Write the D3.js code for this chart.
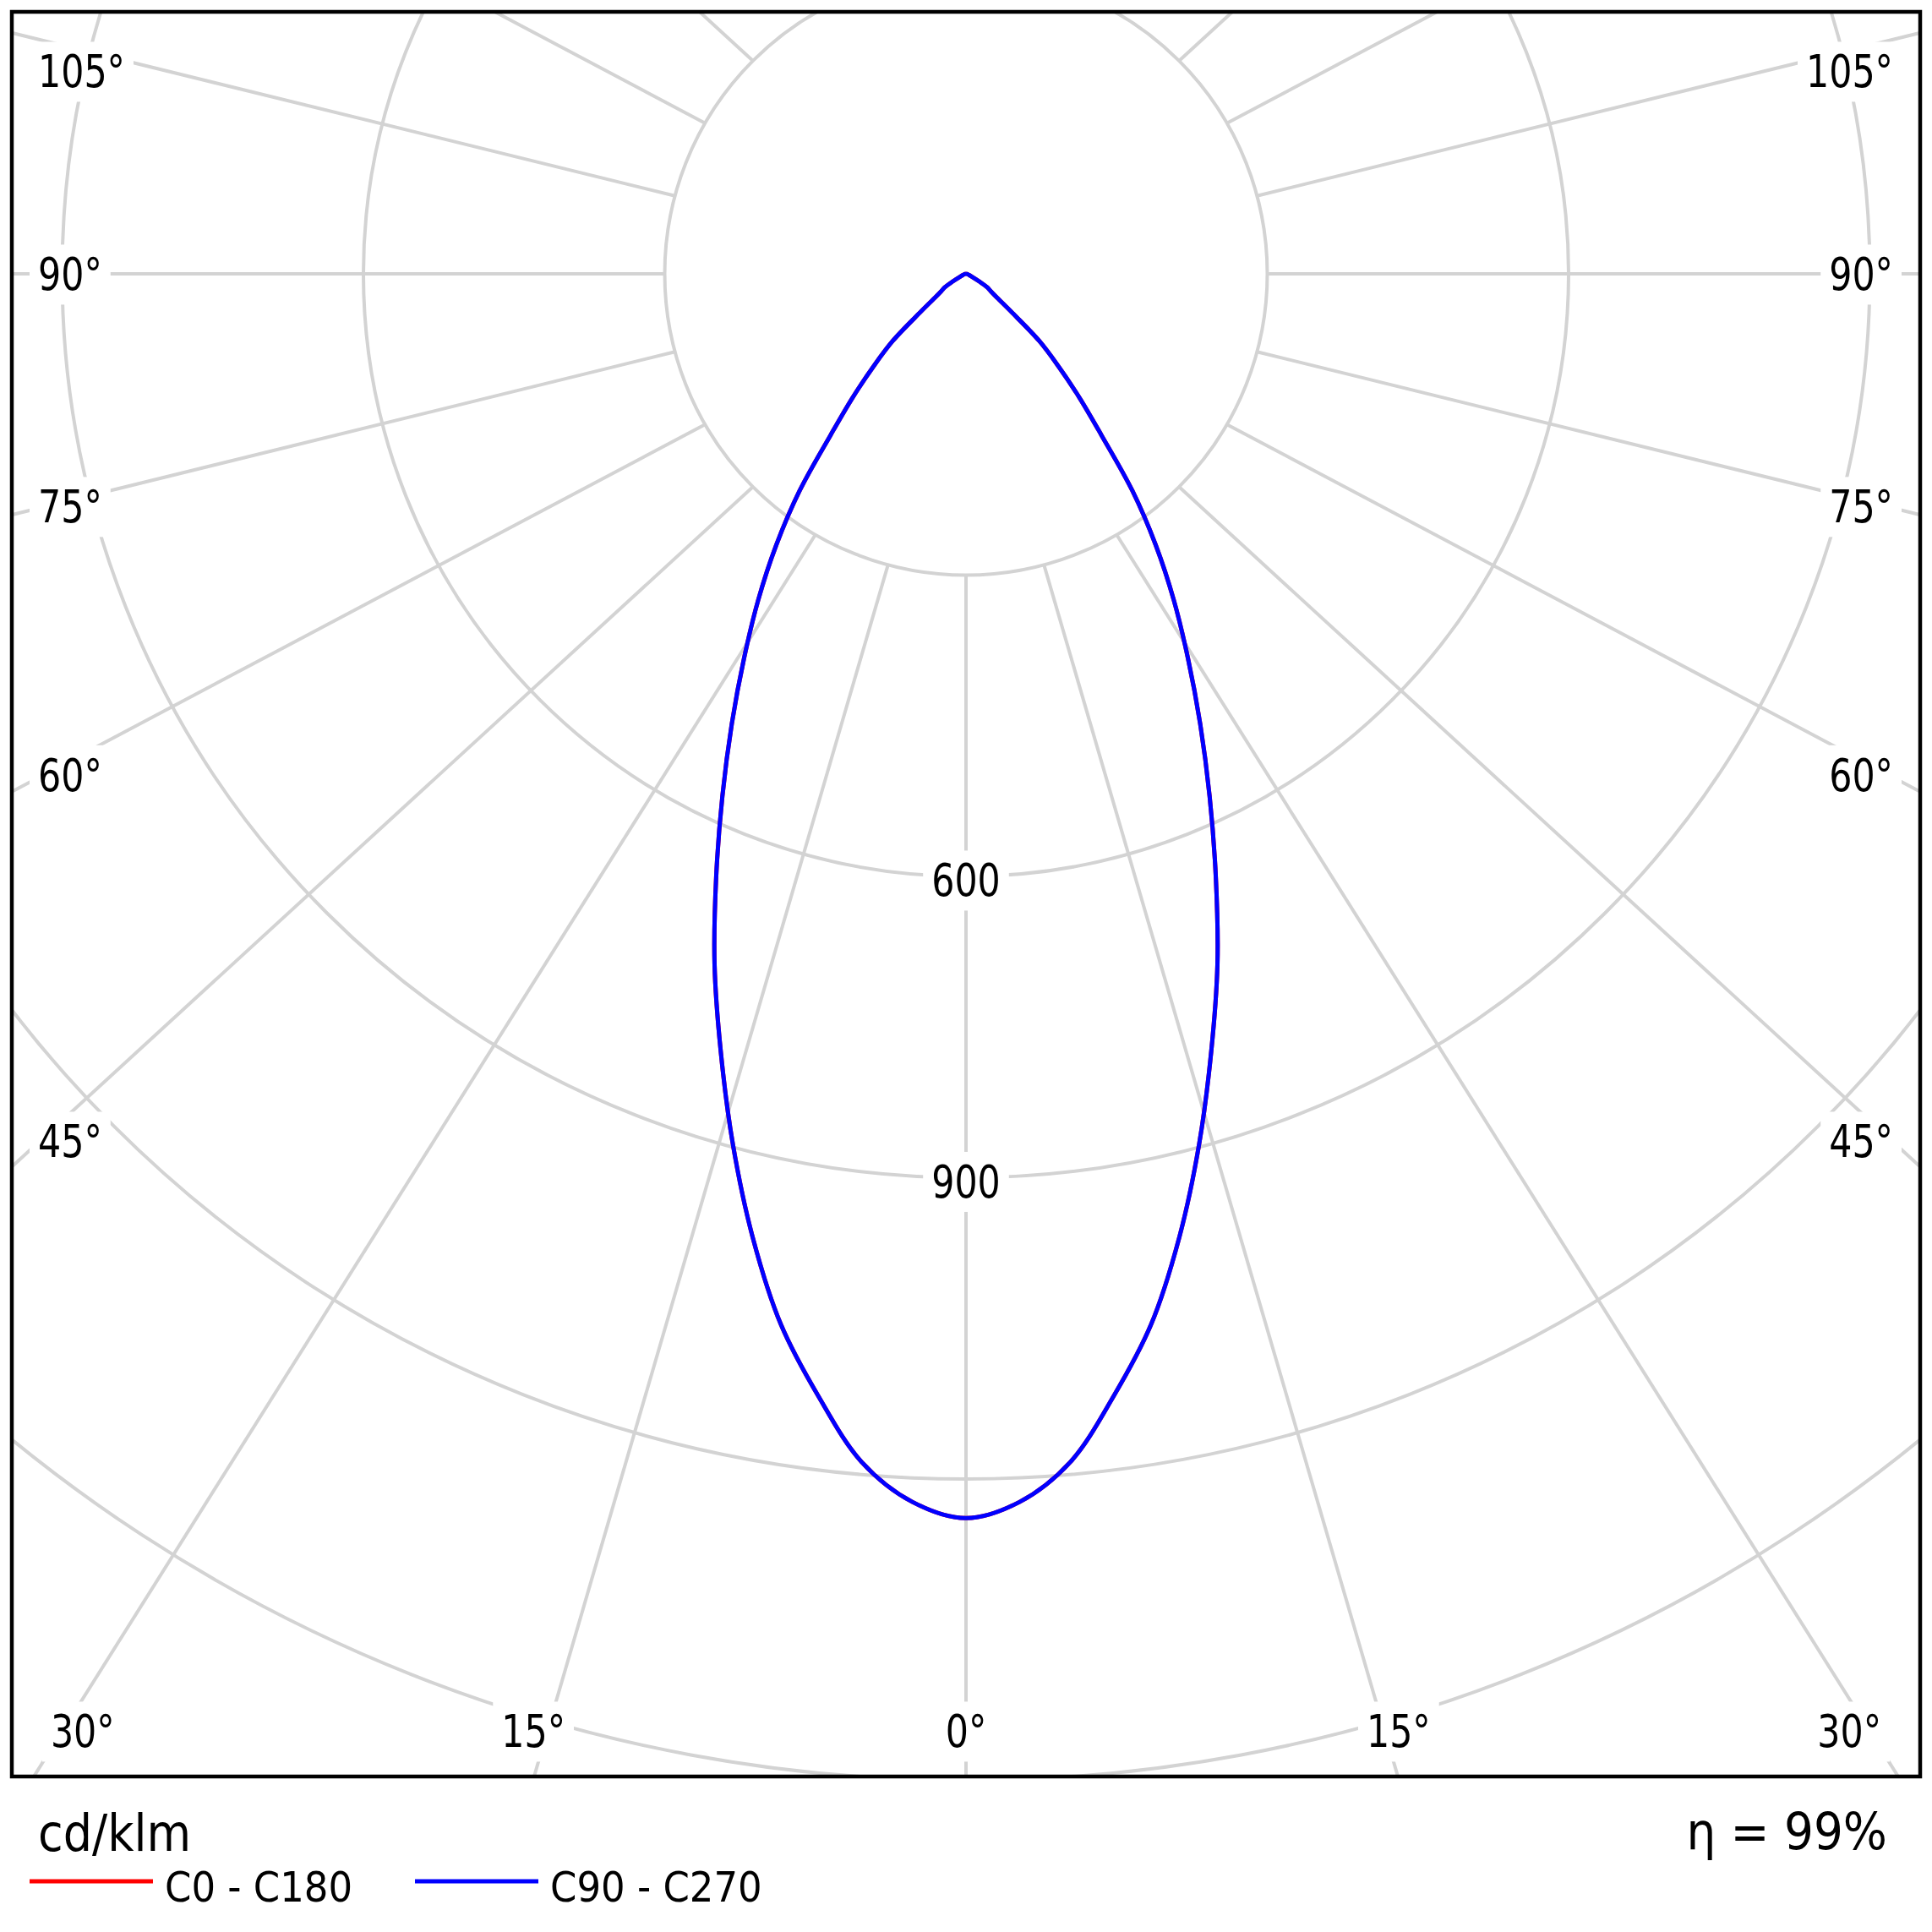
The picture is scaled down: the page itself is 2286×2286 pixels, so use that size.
<!DOCTYPE html>
<html>
<head>
<meta charset="utf-8">
<script src="https://cdn.jsdelivr.net/npm/d3@7"></script>
<style>
  body { margin: 0; background: #fff; }
  text { font-family: "DejaVu Sans Condensed", "DejaVu Sans", sans-serif; font-stretch: condensed; fill: #000; }
</style>
</head>
<body>
<svg id="chart" width="2286" height="2286"></svg>
<script>
// gamma angles (deg from nadir) and intensities in cd/klm
const gammaDeg = [0, 2.5, 5, 7.5, 10, 12.5, 15, 17.5, 20, 22.5, 25, 27.5, 30, 32.5, 35, 37.5, 40, 42.5, 45, 47.5, 50, 52.5, 55, 57.5, 60, 65, 70, 80, 90];
const c0Values = [1239, 1224, 1188, 1127, 1062, 982, 897, 812, 732, 650, 574, 505, 442, 385, 329, 272, 210, 167, 130, 99, 59, 39, 30, 25, 16, 6, 3, 1, 0];
const c90Values = [1239, 1224, 1188, 1127, 1062, 982, 897, 812, 732, 650, 574, 505, 442, 385, 329, 272, 210, 167, 130, 99, 59, 39, 30, 25, 16, 6, 3, 1, 0];

const seriesNames = ["C0 - C180", "C90 - C270"];
const seriesColors = ["#ff0000", "#0000ff"];

// grid
const ringValues = [300, 600, 900, 1200, 1500];
const ringLabels = [600, 900];
const gridAngles = [0, 15, 30, 45, 60, 75, 90, 105, 120, 135, 150, 165, 180];
const labelAngles = [0, 15, 30, 45, 60, 75, 90, 105];

const unitLabel = "cd/klm";
const etaLabel = "\u03b7 = 99%";

const W = 2286, H = 2286;
const cx = 1143, cy = 324;
const frame = { x0: 14, y0: 14, x1: 2272, y1: 2102 };
const inset = { x0: 117, x1: 2169, y0: 84, y1: 2048 };
// spokes run out in frame proportions, not square ones
const spokeAspect = (frame.y1 - frame.y0) / (frame.x1 - frame.x0);
const gridColor = "#d3d3d3";
const toRad = d => d * Math.PI / 180;

const svg = d3.select("#chart");
svg.append("rect").attr("width", W).attr("height", H).attr("fill", "#fff");

const rScale = d3.scaleLinear().domain([0, 300]).range([0, 356.5]);

svg.append("clipPath").attr("id", "plotClip")
  .append("rect")
  .attr("x", frame.x0).attr("y", frame.y0)
  .attr("width", frame.x1 - frame.x0).attr("height", frame.y1 - frame.y0);

const plot = svg.append("g").attr("clip-path", "url(#plotClip)");
const g = plot.append("g").attr("transform", `translate(${cx},${cy})`);

// rings
g.selectAll("circle.ring")
  .data(ringValues)
  .join("circle")
  .attr("class", "ring")
  .attr("r", d => rScale(d))
  .attr("fill", "none")
  .attr("stroke", gridColor)
  .attr("stroke-width", 4);

// spokes, signed angle: positive to the right
const spokes = [];
gridAngles.forEach(a => {
  spokes.push(a);
  if (a > 0 && a < 180) spokes.push(-a);
});
const r0 = rScale(ringValues[0]);
const far = 4000;
g.selectAll("line.spoke")
  .data(spokes)
  .join("line")
  .attr("class", "spoke")
  .attr("x1", d => r0 * Math.sin(toRad(d)))
  .attr("y1", d => r0 * Math.cos(toRad(d)))
  .attr("x2", d => far * Math.sin(toRad(d)))
  .attr("y2", d => far * Math.cos(toRad(d)) * spokeAspect)
  .attr("stroke", gridColor)
  .attr("stroke-width", 4);

// curves
function seriesPoints(vals) {
  const left = gammaDeg.map((gm, i) => [-gm, vals[i]]).reverse();
  const right = gammaDeg.slice(1).map((gm, i) => [gm, vals[i + 1]]);
  return left.concat(right);
}
const radial = d3.lineRadial()
  .angle(d => Math.PI - toRad(d[0]))
  .radius(d => rScale(d[1]))
  .curve(d3.curveCatmullRom);

[c0Values, c90Values].forEach((vals, i) => {
  g.append("path")
    .attr("d", radial(seriesPoints(vals)))
    .attr("fill", "none")
    .attr("stroke", seriesColors[i])
    .attr("stroke-width", 5)
    .attr("stroke-linejoin", "round");
});

// labels with white backing, slightly narrowed glyphs
const labelLayer = svg.append("g");
const squeeze = 0.88;
function addLabel(x, y, txt, anchor, size, clampMin, clampMax) {
  const lg = labelLayer.append("g");
  const rect = lg.append("rect").attr("fill", "#fff");
  const t = lg.append("text")
    .attr("x", x).attr("y", y).attr("dy", "0.36em")
    .attr("text-anchor", anchor)
    .style("font-size", size + "px")
    .text(txt);
  const len = t.node().getComputedTextLength();
  t.attr("textLength", len * squeeze).attr("lengthAdjust", "spacingAndGlyphs");
  let b = t.node().getBBox();
  if (clampMin != null && b.x < clampMin) {
    t.attr("x", x + (clampMin - b.x));
  }
  if (clampMax != null && b.x + b.width > clampMax) {
    t.attr("x", x - (b.x + b.width - clampMax));
  }
  b = t.node().getBBox();
  const pad = 10;
  rect.attr("x", b.x - pad).attr("y", b.y - 4)
    .attr("width", b.width + 2 * pad).attr("height", b.height + 8);
}

function labelPoint(gm) {
  const s = Math.sin(toRad(Math.abs(gm))), c = Math.cos(toRad(Math.abs(gm)));
  const tSide = s > 1e-6 ? (cx - inset.x0) / s : Infinity;
  const tBot = c > 1e-6 ? (inset.y1 - cy) / c : Infinity;
  const t = Math.min(tSide, tBot);
  return {
    x: cx + Math.sign(gm) * t * s,
    y: Math.max(inset.y0, cy + t * c),
    bottom: tBot <= tSide
  };
}

const labelSize = 54;
labelAngles.forEach(a => {
  const sides = a === 0 ? [0] : [-a, a];
  sides.forEach(gm => {
    const p = labelPoint(gm);
    const shift = p.bottom ? 12 : 0;
    if (gm === 0) addLabel(p.x, p.y, a + "\u00b0", "middle", labelSize);
    else if (gm < 0) addLabel(p.x - shift, p.y, a + "\u00b0", "end", labelSize, 45, null);
    else addLabel(p.x + shift, p.y, a + "\u00b0", "start", labelSize, null, 2240);
  });
});

ringLabels.forEach(v => {
  addLabel(cx, cy + rScale(v) + 4, String(v), "middle", labelSize);
});

// frame
svg.append("rect")
  .attr("x", frame.x0).attr("y", frame.y0)
  .attr("width", frame.x1 - frame.x0).attr("height", frame.y1 - frame.y0)
  .attr("fill", "none").attr("stroke", "#000").attr("stroke-width", 4.5);

// unit, legend, efficiency
svg.append("text").attr("x", 45).attr("y", 2190)
  .style("font-size", "60px").text(unitLabel);

const legendX = [35, 491];
seriesNames.forEach((name, i) => {
  svg.append("line")
    .attr("x1", legendX[i]).attr("x2", legendX[i] + 146)
    .attr("y1", 2226).attr("y2", 2226)
    .attr("stroke", seriesColors[i]).attr("stroke-width", 5);
  svg.append("text")
    .attr("x", legendX[i] + 160).attr("y", 2250)
    .style("font-size", "50px").text(name);
});

svg.append("text").attr("x", 2233).attr("y", 2188)
  .attr("text-anchor", "end")
  .style("font-size", "61px").text(etaLabel);
</script>
</body>
</html>
